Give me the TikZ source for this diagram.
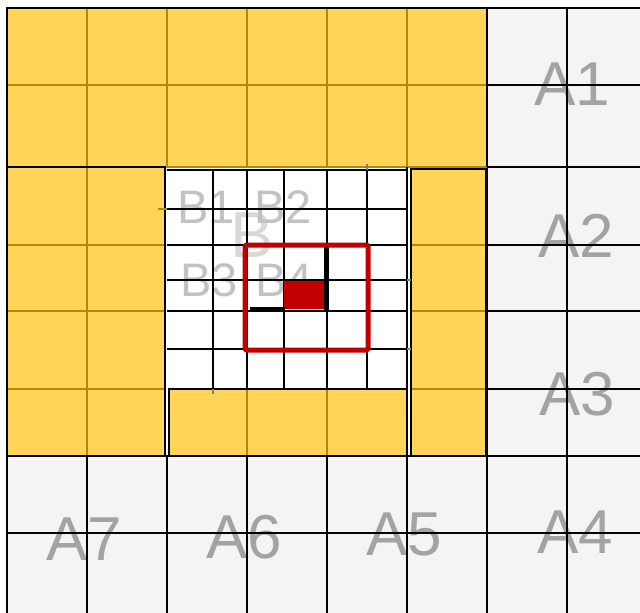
\documentclass[tikz,border=0pt]{standalone}
\usepackage{fontspec}
\setmainfont{Liberation Sans}
\definecolor{orng}{HTML}{FFD559}
\definecolor{brwn}{HTML}{B08A00}
\definecolor{gcell}{HTML}{F4F4F4}
\definecolor{alab}{HTML}{A3A3A3}
\definecolor{blab}{HTML}{C2C2C2}
\definecolor{bbig}{HTML}{D8D8D8}
\definecolor{dred}{HTML}{C00000}
\begin{document}
\begin{tikzpicture}[x=1pt,y=-1pt,
  alabel/.style={font=\fontsize{62}{62}\selectfont, text=alab, anchor=base, inner sep=0pt},
  blabel/.style={font=\fontsize{47}{47}\selectfont, text=blab, anchor=base, inner sep=0pt},
  bbiglabel/.style={font=\fontsize{65}{65}\selectfont, text=bbig, anchor=base, inner sep=0pt},
  agrid/.style={draw=black, line width=1.8pt},
  bline/.style={draw=brwn, line width=1.8pt},
  bandborder/.style={draw=black, line width=2pt},
  fgrid/.style={draw=black, line width=1.6pt},
  redframe/.style={draw=dred, line width=5pt, rounded corners=2pt},
  blackedge/.style={draw=black, line width=5pt}]
\useasboundingbox (0,0) rectangle (640,613);
\fill[white] (0,0) rectangle (640,613);
% grey regions
\fill[gcell] (487,8) rectangle (640,456);
\fill[gcell] (7,456) rectangle (640,613);
% A labels (under the grid lines)
\node[alabel] (A1) at (572,105) {A1};
\node[alabel] (A2) at (576,257) {A2};
\node[alabel] (A3) at (577,415) {A3};
\node[alabel] (A4) at (575,553) {A4};
\node[alabel] (A5) at (404,555) {A5};
\node[alabel] (A6) at (244,558) {A6};
\node[alabel] (A7) at (84,560) {A7};
% grid in grey regions
\foreach \y in {85,167,245,311,389} \draw[agrid] (487,\y) -- (640,\y);
\draw[agrid] (567,8) -- (567,613);
\draw[agrid] (487,8) -- (487,613);
\draw[agrid] (7,456) -- (640,456);
\draw[agrid] (7,533) -- (640,533);
\foreach \x in {87,167,247,327,407} \draw[agrid] (\x,456) -- (\x,613);
% top orange band
\fill[orng] (7,8) rectangle (487,167);
\foreach \x in {87,167,247,327,407} \draw[bline] (\x,8) -- (\x,167);
\draw[bline] (7,85) -- (487,85);
\draw[bline] (165,167) -- (487,167);
% left orange band
\fill[orng] (7,167) rectangle (165,456);
\draw[bline] (87,167) -- (87,456);
\foreach \y in {245,311,389} \draw[bline] (7,\y) -- (165,\y);
\draw[bandborder] (7,167) rectangle (165,456);
% right orange band
\fill[orng] (411,169) rectangle (486,456);
\foreach \y in {245,311,389} \draw[bline] (411,\y) -- (486,\y);
\draw[bandborder] (411,169) rectangle (486,456);
% bottom orange band
\fill[orng] (169,389) rectangle (407,456);
\foreach \x in {247,327} \draw[bline] (\x,389) -- (\x,456);
\draw[bandborder] (169,389) rectangle (407,456);
% B labels
\node[bbiglabel] (B) at (252,257) {B};
\node[blabel] (B1) at (206,223) {B1};
\node[blabel] (B2) at (283,223) {B2};
\node[blabel] (B3) at (209,296) {B3};
\node[blabel] (B4) at (284,296) {B4};
% fine grid in the white region
\draw[fgrid] (167,170) -- (407,170);
\draw[fgrid] (407,167) -- (407,389);
\foreach \x in {213,247,284,327,367} \draw[fgrid] (\x,170) -- (\x,389);
\foreach \y in {209,245,280,311,349} \draw[fgrid] (167,\y) -- (407,\y);
\draw[bline, line width=1.4pt] (158,209) -- (167,209);
\draw[draw=gray, line width=1.4pt] (213,389) -- (213,394);
\draw[draw=gray, line width=1.4pt] (367,164) -- (367,170);
\draw[draw=gray, line width=1.4pt] (407,280) -- (411,280);
\draw[draw=gray, line width=1.4pt] (407,349) -- (411,349);
% red marking
\fill[dred] (284,281) rectangle (325,309);
\draw[blackedge] (326,247) -- (326,311);
\draw[blackedge] (250,309) -- (285,309);
\draw[redframe] (245,245) rectangle (368,350);
% outer border
\draw[line width=2.6pt] (7,613) -- (7,8) -- (640,8);
\draw[line width=2.6pt] (487,8) -- (487,167);
\end{tikzpicture}
\end{document}
